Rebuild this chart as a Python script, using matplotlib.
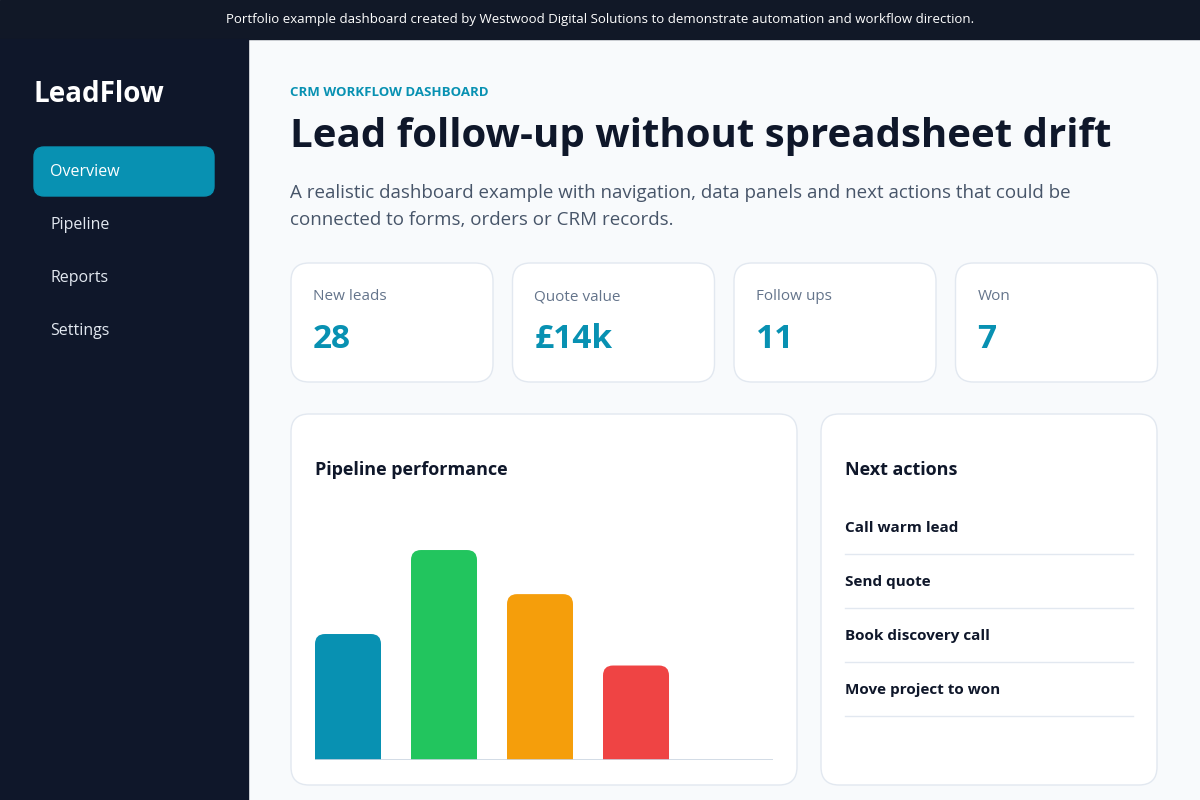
import matplotlib.pyplot as plt
from matplotlib.patches import FancyBboxPatch, Rectangle

stages = ["Stage 1", "Stage 2", "Stage 3", "Stage 4"]
stage_values = [60, 100, 79, 45]
bar_colors = ["#0891b2", "#22c55e", "#f59e0b", "#ef4444"]

kpi_labels = ["New leads", "Quote value", "Follow ups", "Won"]
kpi_values = ["28", "£14k", "11", "7"]

nav_items = ["Overview", "Pipeline", "Reports", "Settings"]
actions = ["Call warm lead", "Send quote", "Book discovery call", "Move project to won"]

plt.rcParams["font.family"] = ["Open Sans", "DejaVu Sans"]
BOLD = "bold"

fig = plt.figure(figsize=(12, 8), dpi=100)
bg = fig.add_axes([0, 0, 1, 1])
bg.set_xlim(0, 1200)
bg.set_ylim(800, 0)
bg.axis("off")
bg.add_patch(Rectangle((0, 0), 1200, 800, color="#f8fafc", zorder=0))

# top banner and sidebar
bg.add_patch(Rectangle((0, 0), 1200, 39, color="#111827", zorder=1))
bg.text(600, 20, "Portfolio example dashboard created by Westwood Digital Solutions to demonstrate automation and workflow direction.",
        color="white", fontsize=9.5, ha="center", va="center")
bg.add_patch(Rectangle((0, 39), 248, 761, color="#0f172a", zorder=1))
bg.text(34, 95, "LeadFlow", color="white", fontsize=20, fontweight=BOLD, va="center")
bg.add_patch(FancyBboxPatch((34, 147), 180, 49, boxstyle="round,pad=0,rounding_size=10",
                            color="#0891b2", zorder=2))
for i, item in enumerate(nav_items):
    bg.text(50, 172 + i * 53, item, color="white" if i == 0 else "#e2e8f0", fontsize=11.5, va="center", zorder=3)

# header
bg.text(290, 93, "CRM WORKFLOW DASHBOARD", color="#0891b2", fontsize=9.5, fontweight=BOLD, va="center")
bg.text(290, 137, "Lead follow-up without spreadsheet drift", color="#0f172a", fontsize=29, fontweight=BOLD, va="center")
bg.text(290, 193, "A realistic dashboard example with navigation, data panels and next actions that could be",
        color="#475569", fontsize=13.5, va="center")
bg.text(290, 220, "connected to forms, orders or CRM records.", color="#475569", fontsize=13.5, va="center")

# kpi cards
for i, (lab, val) in enumerate(zip(kpi_labels, kpi_values)):
    x0 = 291 + i * 221.5
    bg.add_patch(FancyBboxPatch((x0, 263), 202, 119, boxstyle="round,pad=0,rounding_size=18",
                                facecolor="white", edgecolor="#e2e8f0", lw=1, zorder=2))
    bg.text(x0 + 22, 297, lab, color="#64748b", fontsize=11, va="center", zorder=3)
    bg.text(x0 + 22, 339, val, color="#0891b2", fontsize=24, fontweight=BOLD, va="center", zorder=3)

# panels
bg.add_patch(FancyBboxPatch((291, 414), 506, 371, boxstyle="round,pad=0,rounding_size=18",
                            facecolor="white", edgecolor="#e2e8f0", lw=1, zorder=2))
bg.text(315, 470, "Pipeline performance", color="#0f172a", fontsize=13, fontweight=BOLD, va="center", zorder=3)
bg.add_patch(FancyBboxPatch((821, 414), 336, 371, boxstyle="round,pad=0,rounding_size=18",
                            facecolor="white", edgecolor="#e2e8f0", lw=1, zorder=2))
bg.text(845, 470, "Next actions", color="#0f172a", fontsize=13, fontweight=BOLD, va="center", zorder=3)
for i, a in enumerate(actions):
    y = 528 + i * 54
    bg.text(845, y, a, color="#0f172a", fontsize=11, fontweight=BOLD, va="center", zorder=3)
    bg.plot([845, 1133], [y + 26, y + 26], color="#e2e8f0", lw=1, zorder=3)

# bar chart
ax = fig.add_axes([315 / 1200, 40 / 800, 458 / 1200, 240 / 800])
ax.set_xlim(-0.34375, 4.427)
ax.set_ylim(0, 114.3)
ax.axis("off")
w = 66 / 96
r = 10 / 96
asp = (10 / 2.1) / r
for i, (v, c) in enumerate(zip(stage_values, bar_colors)):
    ax.add_patch(FancyBboxPatch((i - w / 2, 0), w, v, boxstyle=f"round,pad=0,rounding_size={r}",
                                mutation_aspect=asp, color=c, lw=0))
    ax.add_patch(Rectangle((i - w / 2, 0), w, v / 2, color=c, lw=0))
ax.axhline(0, color="#cbd5e1", lw=1.2)

fig.savefig("out.png", dpi=100)
